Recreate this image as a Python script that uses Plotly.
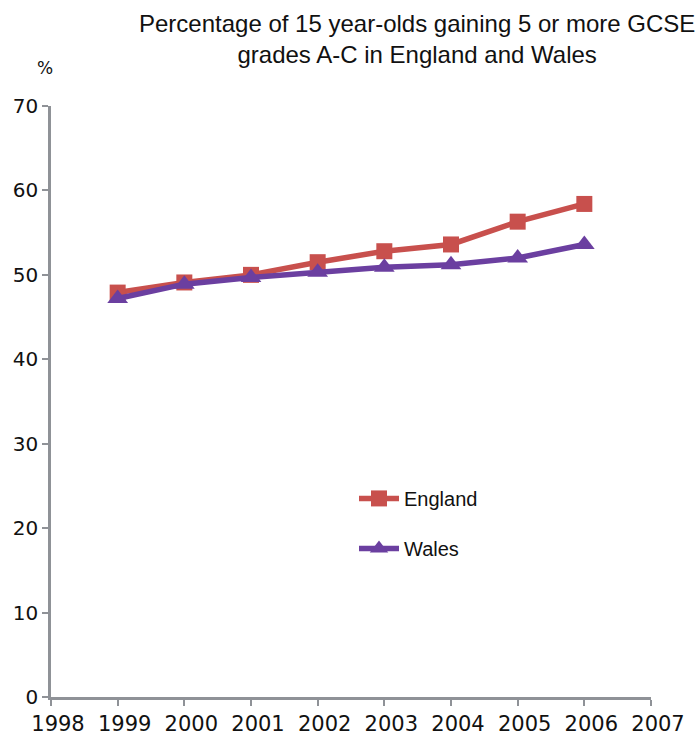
import plotly.graph_objects as go

years = [1999, 2000, 2001, 2002, 2003, 2004, 2005, 2006]
england = [47.9, 49.1, 50.0, 51.5, 52.8, 53.6, 56.3, 58.4]
wales = [47.2, 48.9, 49.7, 50.3, 50.9, 51.2, 52.0, 53.6]
x_ticks = list(range(1998, 2008))
y_ticks = list(range(0, 80, 10))

title_text = "Percentage of 15 year-olds gaining 5 or more GCSE<br>grades A-C in England and Wales"

fig = go.Figure()
fig.add_trace(go.Scatter(
    x=years, y=england, name="England", mode="lines+markers",
    line=dict(color="#c8504d", width=5.5),
    marker=dict(symbol="square", size=16, color="#c8504d"),
    legendgroup="e", cliponaxis=False,
))
fig.add_trace(go.Scatter(
    x=years, y=wales, name="Wales", mode="lines+markers",
    line=dict(color="#6b3fa0", width=5.5),
    marker=dict(symbol="triangle-up", size=18, color="#6b3fa0"),
    legendgroup="w", cliponaxis=False,
))

axis_color = "#8f9297"
fig.update_layout(
    width=699, height=742,
    margin=dict(l=51, r=48, t=106, b=45, autoexpand=False),
    paper_bgcolor="white", plot_bgcolor="white",
    showlegend=True,
    legend=dict(
        x=0.505, y=0.369, xanchor="left", yanchor="top",
        font=dict(family="Liberation Sans", size=20, color="#111111"),
        tracegroupgap=21, itemwidth=40, bgcolor="rgba(0,0,0,0)",
    ),
    xaxis=dict(
        range=[1998, 2007], tickmode="array", tickvals=x_ticks,
        ticktext=[str(v) for v in x_ticks], automargin=False,
        showgrid=False, zeroline=False, showline=True,
        linecolor=axis_color, linewidth=3,
        ticks="outside", ticklen=6, tickwidth=2, tickcolor=axis_color,
        tickfont=dict(family="DejaVu Sans", size=21, color="#111111"),
        ticklabelshift=7,
    ),
    yaxis=dict(
        range=[0, 70], tickmode="array", tickvals=y_ticks, automargin=False,
        showgrid=False, zeroline=False, showline=True,
        linecolor=axis_color, linewidth=2.5,
        ticks="outside", ticklen=6, tickwidth=2, tickcolor=axis_color,
        tickfont=dict(family="DejaVu Sans", size=20, color="#111111"),
    ),
    annotations=[
        dict(text=title_text, xref="paper", yref="paper", x=0.61, y=1.113,
             xanchor="center", yanchor="middle", showarrow=False,
             font=dict(family="Liberation Sans", size=24, color="#111111")),
        dict(text="%", xref="paper", yref="paper", x=-0.01, y=1.064,
             xanchor="center", yanchor="middle", showarrow=False,
             font=dict(family="DejaVu Sans", size=17, color="#111111")),
    ],
)

fig.write_html(
    "out.html",
    config={"displayModeBar": False},
    post_script="document.body.style.margin='0';document.body.style.overflow='hidden';",
)
